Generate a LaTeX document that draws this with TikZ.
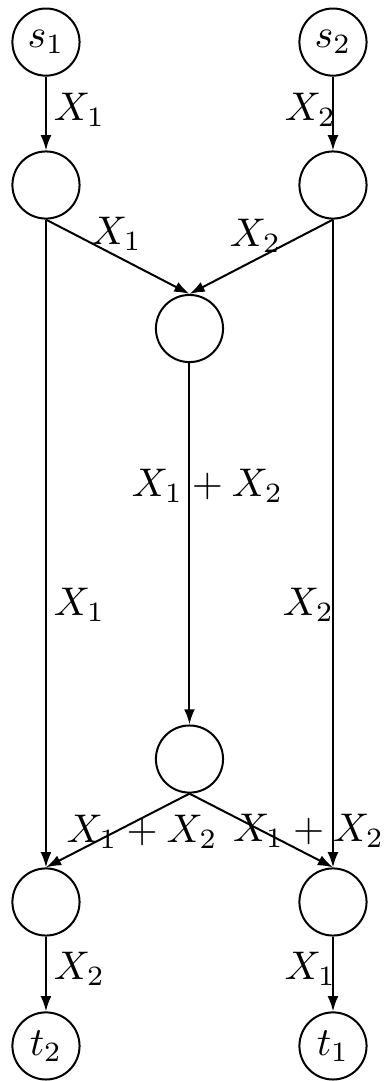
\documentclass[tikz,border=0pt]{standalone}
\usepackage{tikz}
\usetikzlibrary{arrows.meta,positioning,calc}
\usepackage{amsmath}

\tikzset{
  vtx/.style={circle,draw,line width=0.5pt,minimum size=0.59cm,inner sep=0pt},
  lab/.style={inner sep=1pt},
  flow/.style={-{Latex[length=3.8pt,width=2.7pt]},line width=0.5pt}
}

\begin{document}
\begin{tikzpicture}[x=1cm,y=1cm]
\useasboundingbox (0,0) rectangle (3.374,9.499);
% sources and sinks
\node[vtx] (s1) at (0.404,9.129) {$s_1$};
\node[vtx] (s2) at (2.926,9.129) {$s_2$};
\node[vtx] (a1) at (0.404,7.873) {};
\node[vtx] (a2) at (2.926,7.873) {};
\node[vtx] (m1) at (1.665,6.612) {};
\node[vtx] (m2) at (1.665,2.829) {};
\node[vtx] (b1) at (0.404,1.573) {};
\node[vtx] (b2) at (2.926,1.573) {};
\node[vtx] (t2) at (0.404,0.308) {$t_2$};
\node[vtx] (t1) at (2.926,0.308) {$t_1$};
% edges
\draw[flow] (s1.south) -- node[lab,pos=0.45,right=0.75pt] {$X_1$} (a1.north);
\draw[flow] (s2.south) -- node[lab,pos=0.45,left=-2pt] {$X_2$} (a2.north);
\draw[flow] (a1.south) -- node[lab,pos=0.49,yshift=5.5pt] {$X_1$} (m1.north);
\draw[flow] (a2.south) -- node[lab,pos=0.54,yshift=6pt] {$X_2$} (m1.north);
\draw[flow] (m1.south) -- node[lab,pos=0.34,xshift=4.5pt] {$X_1+X_2$} (m2.north);
\draw[flow] (a1.south) -- node[lab,pos=0.594,right=0.75pt] {$X_1$} (b1.north);
\draw[flow] (a2.south) -- node[lab,pos=0.594,left=-1.5pt] {$X_2$} (b2.north);
\draw[flow] (m2.south) -- node[lab,pos=0.33,yshift=-3.5pt] {$X_1+X_2$} (b1.north);
\draw[flow] (m2.south) -- node[lab,pos=0.83,yshift=6pt] {$X_1+X_2$} (b2.north);
\draw[flow] (b1.south) -- node[lab,pos=0.43,right=0.75pt] {$X_2$} (t2.north);
\draw[flow] (b2.south) -- node[lab,pos=0.43,left=-2pt] {$X_1$} (t1.north);
\end{tikzpicture}
\end{document}
